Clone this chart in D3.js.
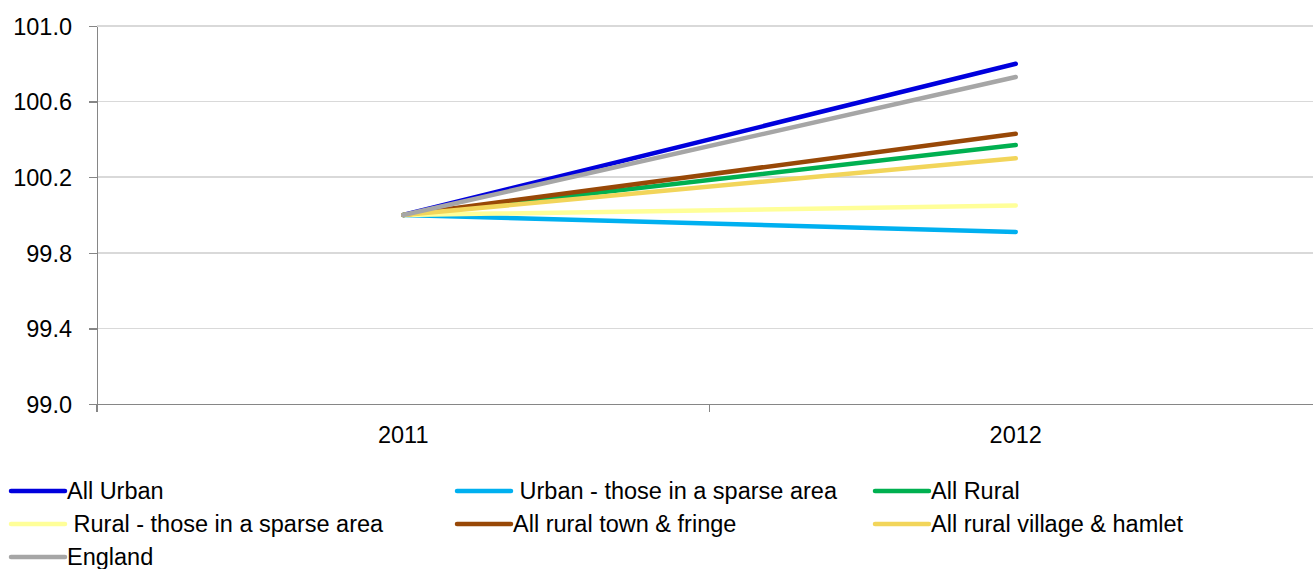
<!DOCTYPE html>
<html lang="en">
<head>
<meta charset="utf-8">
<script src="https://d3js.org/d3.v7.min.js"></script>
<style>
body { margin: 0; background: #fff; font-family: "Liberation Sans", Arial, sans-serif; }
.grid line { stroke: #d9d9d9; stroke-width: 1.5; shape-rendering: crispEdges; }
.axis path, .axis line { stroke: #868686; stroke-width: 1.5; fill: none; shape-rendering: crispEdges; }
.axis text { fill: #000; font-size: 23.5px; font-family: "Liberation Sans", Arial, sans-serif; }
.legend text { font-size: 23.5px; fill: #000; }
</style>
</head>
<body>
<svg id="chart" width="1313" height="569"></svg>
<script>
// data
var years = ["2011", "2012"];
var seriesNames = ["All Urban", " Urban - those in a sparse area", "All Rural",
                   " Rural - those in a sparse area", "All rural town & fringe",
                   "All rural village & hamlet", "England"];
var allUrban = [100.0, 100.80];
var urbanSparse = [100.0, 99.91];
var allRural = [100.0, 100.37];
var ruralSparse = [100.0, 100.05];
var ruralTown = [100.0, 100.43];
var ruralVillage = [100.0, 100.30];
var england = [100.0, 100.73];
var yTicks = [99.0, 99.4, 99.8, 100.2, 100.6, 101.0];

var colors = ["#0000dd", "#00b0f0", "#00b050", "#ffff99", "#984807", "#f2d55a", "#a6a6a6"];
var allSeries = [allUrban, urbanSparse, allRural, ruralSparse, ruralTown, ruralVillage, england];

var svg = d3.select("#chart");

var plotLeft = 97, plotRight = 1322, plotTop = 26, plotBottom = 404;

var x = d3.scaleBand().domain(years).range([plotLeft, plotRight]);
var y = d3.scaleLinear().domain([99, 101]).range([plotBottom, plotTop]);

// gridlines
svg.append("g")
    .attr("class", "grid")
    .selectAll("line")
    .data(yTicks.slice(1))
    .enter()
    .append("line")
    .attr("x1", plotLeft)
    .attr("x2", 1313)
    .attr("y1", function(d) { return y(d); })
    .attr("y2", function(d) { return y(d); });

// y axis
var yAxis = svg.append("g")
    .attr("class", "axis")
    .attr("transform", "translate(" + plotLeft + ",0)")
    .call(d3.axisLeft(y).tickValues(yTicks).tickFormat(d3.format(".1f")).tickSize(8).tickPadding(17).tickSizeOuter(0));
yAxis.selectAll("text").attr("dy", "0.35em");

// x axis, ticks on band edges
var xAxis = svg.append("g")
    .attr("class", "axis")
    .attr("transform", "translate(0," + plotBottom + ")")
    .call(d3.axisBottom(x).tickSize(0).tickPadding(26));
xAxis.selectAll(".tick text").attr("dy", "0.55em");
xAxis.selectAll(".edge")
    .data([plotLeft, plotLeft + x.step(), plotRight])
    .enter()
    .append("line")
    .attr("class", "edge")
    .attr("x1", function(d) { return d; })
    .attr("x2", function(d) { return d; })
    .attr("y1", 0)
    .attr("y2", 8);

// lines
var line = d3.line()
    .x(function(d, i) { return x(years[i]) + x.bandwidth() / 2; })
    .y(function(d) { return y(d); });

svg.append("g")
    .selectAll("path")
    .data(allSeries)
    .enter()
    .append("path")
    .attr("d", line)
    .attr("fill", "none")
    .attr("stroke", function(d, i) { return colors[i]; })
    .attr("stroke-width", 4.5)
    .attr("stroke-linecap", "round");

// legend
var legendPos = [[9, 491], [455, 491], [873, 491], [9, 524], [455, 524], [873, 524], [9, 557]];
var legend = svg.append("g").attr("class", "legend");
seriesNames.forEach(function(name, i) {
  var p = legendPos[i];
  legend.append("line")
      .attr("x1", p[0] + 2).attr("x2", p[0] + 56)
      .attr("y1", p[1]).attr("y2", p[1])
      .attr("stroke", colors[i])
      .attr("stroke-width", 4.5)
      .attr("stroke-linecap", "round");
  legend.append("text")
      .attr("x", p[0] + 58)
      .attr("y", p[1])
      .attr("dy", "0.35em")
      .attr("xml:space", "preserve")
      .style("white-space", "pre")
      .text(name);
});
</script>
</body>
</html>
